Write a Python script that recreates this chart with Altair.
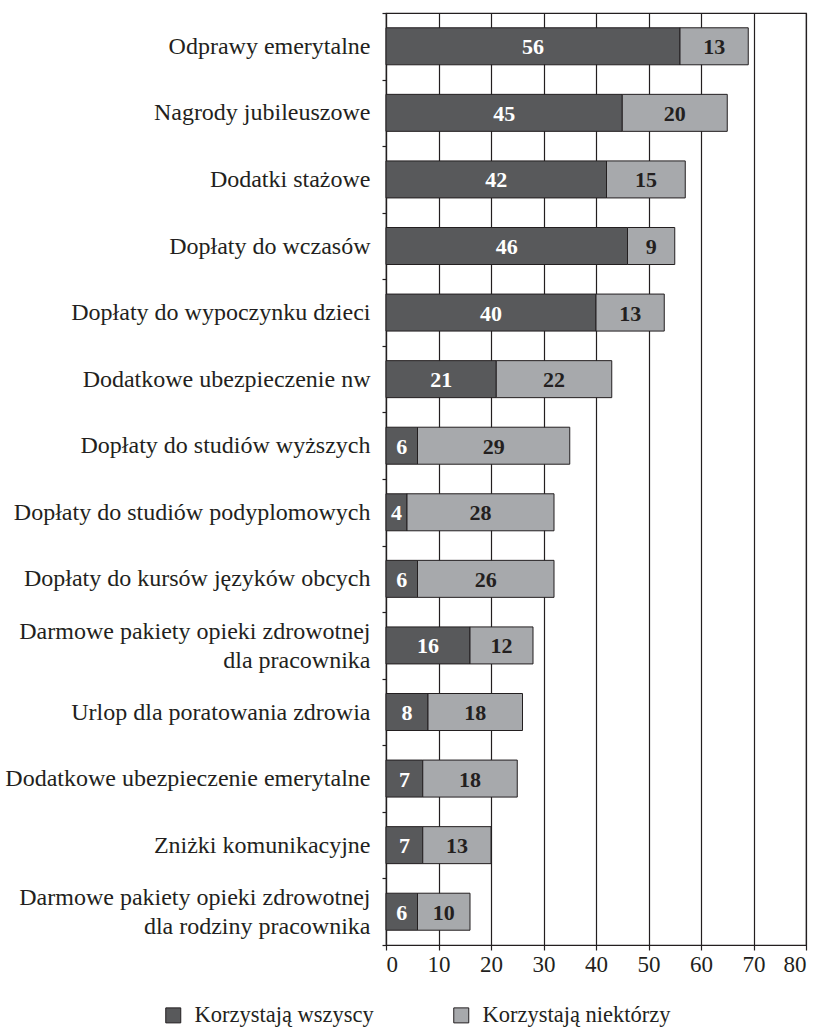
import altair as alt
import pandas as pd

categories = [
    "Odprawy emerytalne",
    "Nagrody jubileuszowe",
    "Dodatki stażowe",
    "Dopłaty do wczasów",
    "Dopłaty do wypoczynku dzieci",
    "Dodatkowe ubezpieczenie nw",
    "Dopłaty do studiów wyższych",
    "Dopłaty do studiów podyplomowych",
    "Dopłaty do kursów języków obcych",
    "Darmowe pakiety opieki zdrowotnej\ndla pracownika",
    "Urlop dla poratowania zdrowia",
    "Dodatkowe ubezpieczenie emerytalne",
    "Zniżki komunikacyjne",
    "Darmowe pakiety opieki zdrowotnej\ndla rodziny pracownika",
]
wszyscy = [56, 45, 42, 46, 40, 21, 6, 4, 6, 16, 8, 7, 7, 6]
niektorzy = [13, 20, 15, 9, 13, 22, 29, 28, 26, 12, 18, 18, 13, 10]
series = ["Korzystają wszyscy", "Korzystają niektórzy"]
colors = ["#58595b", "#a7a9ac"]
x_ticks = [0, 10, 20, 30, 40, 50, 60, 70, 80]

rows = []
for c, a, b in zip(categories, wszyscy, niektorzy):
    rows.append({"cat": c, "series": series[0], "ord": 0, "value": a})
    rows.append({"cat": c, "series": series[1], "ord": 1, "value": b})
df = pd.DataFrame(rows)

FONT = "Liberation Serif"
INK = "#231f20"

base = alt.Chart(df).transform_stack(
    stack="value", groupby=["cat"], as_=["start", "end"],
    sort=[alt.SortField("ord", order="ascending")],
).transform_calculate(mid="(datum.start + datum.end) / 2")

y_enc = alt.Y(
    "cat:N", sort=categories, title=None,
    scale=alt.Scale(paddingInner=0, paddingOuter=0),
    axis=alt.Axis(
        tickBand="extent", tickSize=4, tickColor=INK, tickWidth=1.2,
        domainColor=INK, domainWidth=1.2, grid=False,
        labelFont=FONT, labelFontSize=24, labelColor=INK,
        labelPadding=12, labelLimit=400, labelLineHeight=29,
        labelExpr="split(datum.label, '\\n')",
        labelOffset=alt.condition("indexof(datum.label, '\\n') >= 0", alt.value(-14), alt.value(0)),
    ),
)

bars = base.mark_bar(size=37, stroke=INK, strokeWidth=1).encode(
    x=alt.X(
        "start:Q", title=None,
        scale=alt.Scale(domain=[0, 80], nice=False),
        axis=alt.Axis(
            values=x_ticks, grid=True, gridColor=INK, gridWidth=1.2,
            tickSize=5, tickColor=INK, tickWidth=1.2,
            domainColor=INK, domainWidth=1.2,
            labelFont=FONT, labelFontSize=23, labelColor=INK, labelPadding=3,
        ),
    ),
    x2="end:Q",
    y=y_enc,
    color=alt.Color(
        "series:N", sort=series, title=None,
        scale=alt.Scale(domain=series, range=colors),
        legend=alt.Legend(
            orient="none", legendX=-224, legendY=991, direction="horizontal",
            symbolType="square", symbolSize=225, symbolStrokeColor=INK,
            symbolStrokeWidth=1, symbolOpacity=1,
            labelFont=FONT, labelFontSize=22.5, labelColor=INK,
            labelOffset=10, columnPadding=76, labelLimit=300,
        ),
    ),
)

labels = base.mark_text(font=FONT, fontSize=22, fontWeight="bold", baseline="middle", dy=1).encode(
    x="mid:Q",
    y=alt.Y("cat:N", sort=categories),
    text="value:Q",
    color=alt.condition(alt.datum.ord == 0, alt.value("white"), alt.value(INK)),
)

chart = alt.layer(bars, labels).properties(
    width=420, height=932,
    autosize=alt.AutoSizeParams(type="none"),
    padding={"left": 386, "top": 13, "right": 15, "bottom": 83},
).configure_view(stroke=INK, strokeWidth=1.2)

chart.save("out.html", embed_options={"renderer": "svg", "actions": False})
